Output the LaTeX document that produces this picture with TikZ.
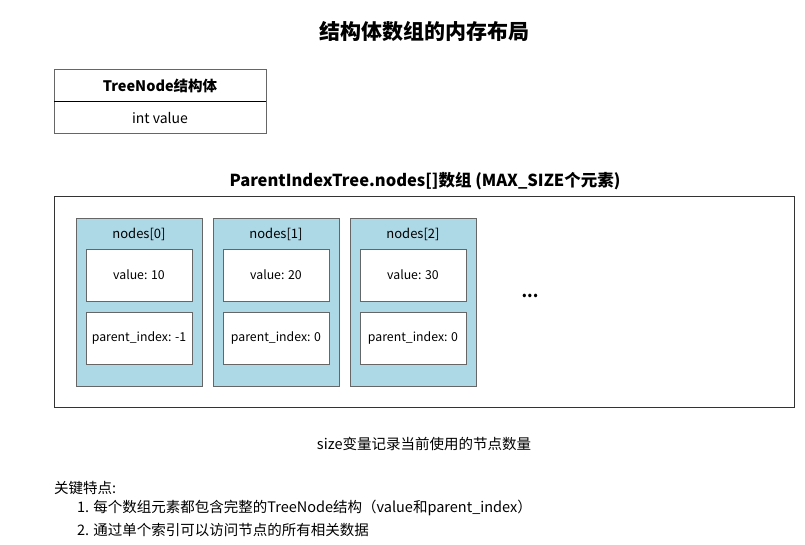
\documentclass[tikz,border=0pt]{standalone}
\usepackage{fontspec}
\setmainfont{Noto Sans CJK SC}
\usetikzlibrary{positioning}
\definecolor{lightblue}{HTML}{ADD8E6}
\definecolor{boxgray}{HTML}{666666}
\tikzset{
x=1pt, y=1pt,
every node/.style={inner sep=0pt, outer sep=0pt, font=\fontsize{14.5}{17}\selectfont},
titletext/.style={font=\fontsize{21}{24}\selectfont\bfseries}, % main title
headtext/.style={font=\fontsize{16.5}{19}\selectfont\bfseries}, % array caption
elembox/.style={draw=boxgray, line width=1pt, fill=lightblue, minimum width=126pt, minimum height=168pt}, % one array element
elemlabel/.style={font=\fontsize{13}{15}\selectfont}, % nodes[i]
fieldbox/.style={draw=boxgray, line width=1pt, fill=white, minimum width=106pt, minimum height=52pt, font=\fontsize{12.3}{14}\selectfont}, % one struct field
}

\begin{document}
\begin{tikzpicture}
    \useasboundingbox (0,0) rectangle (805,-544);
    \node[titletext] (title) at (424,-32) {结构体数组的内存布局};
    % struct definition
    \draw[boxgray, line width=1pt, fill=white] (54,-69) rectangle (266,-133);
    \draw[black, line width=1pt] (54,-101) -- (266,-101);
    \node[font=\fontsize{14.5}{17}\selectfont\bfseries] (structname) at (160,-86) {TreeNode结构体};
    \node[font=\fontsize{14}{16}\selectfont] (structfield) at (160,-118) {int value};
    % the array
    \node[headtext] (arrcap) at (425,-181) {ParentIndexTree.nodes[]数组 (MAX\_SIZE个元素)};
    \node[draw=black!80, line width=1pt, minimum width=740pt, minimum height=211pt] (arr) at (424,-301.5) {};
    \node[elembox] (n0) at (139,-302) {};
    \node[elembox, right=11pt of n0] (n1) {};
    \node[elembox, right=11pt of n1] (n2) {};
    \node[elemlabel, below=10pt of n0.north] (n0lbl) {nodes[0]};
    \node[elemlabel, below=10pt of n1.north] (n1lbl) {nodes[1]};
    \node[elemlabel, below=10pt of n2.north] (n2lbl) {nodes[2]};
    \node[fieldbox, below=31pt of n0.north] (n0val) {value: 10};
    \node[fieldbox, below=11pt of n0val] (n0par) {parent\_index: -1};
    \node[fieldbox, below=31pt of n1.north] (n1val) {value: 20};
    \node[fieldbox, below=11pt of n1val] (n1par) {parent\_index: 0};
    \node[fieldbox, below=31pt of n2.north] (n2val) {value: 30};
    \node[fieldbox, below=11pt of n2val] (n2par) {parent\_index: 0};
    \node[font=\fontsize{16}{18}\selectfont\bfseries] (more) at (530,-296) {...};
    % notes
    \node (sizenote) at (424,-444) {size变量记录当前使用的节点数量};
    \node[anchor=west] (keyhead) at (54,-488) {关键特点:};
    \node[anchor=west] (key1) at (77,-508) {1. 每个数组元素都包含完整的TreeNode结构（value和parent\_index）};
    \node[anchor=west] (key2) at (77,-530) {2. 通过单个索引可以访问节点的所有相关数据};
\end{tikzpicture}
\end{document}
